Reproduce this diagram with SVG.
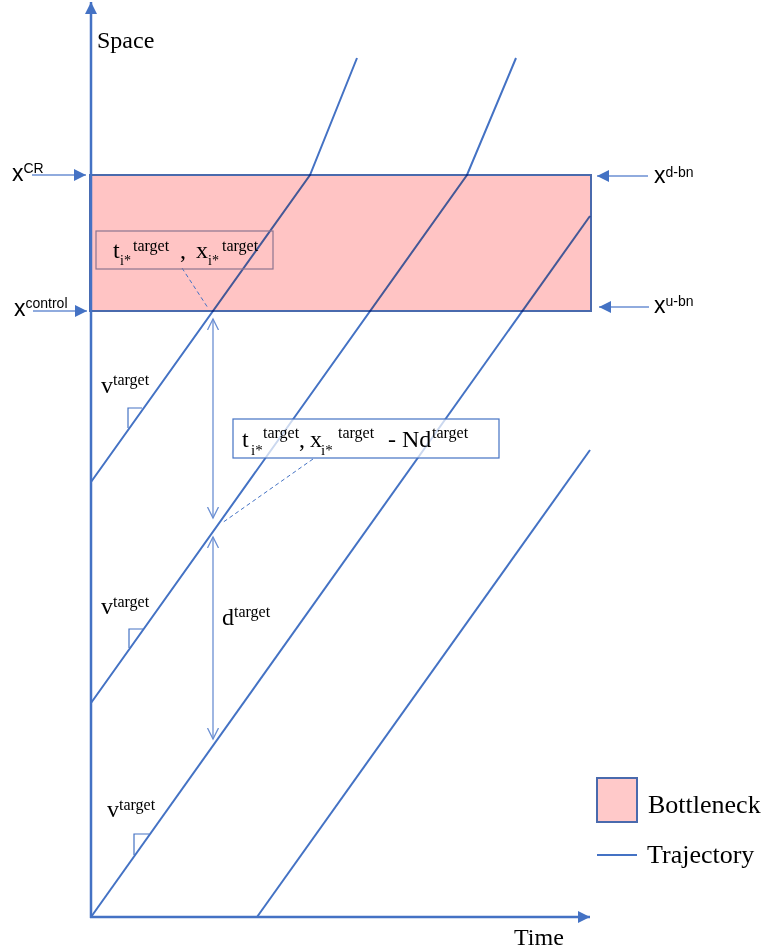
<svg xmlns="http://www.w3.org/2000/svg" width="764" height="950" viewBox="0 0 764 950">
<style>
.serif{font-family:"Liberation Serif","Times New Roman",serif;fill:#000}
.sans{font-family:"Liberation Sans",Arial,sans-serif;fill:#000}
.traj{stroke:#4472c4;stroke-width:2;fill:none}
.thin{stroke:#6b8fd3;stroke-width:1.3;fill:none}
.dash{stroke:#4472c4;stroke-width:1;stroke-dasharray:4 3;fill:none}
.tri{stroke:#4472c4;stroke-width:1.2;fill:none}
</style>
<defs>
<marker id="fa" markerUnits="userSpaceOnUse" markerWidth="13" markerHeight="12" refX="12" refY="6" orient="auto"><path d="M0,0 L12,6 L0,12 Z" fill="#4472c4"/></marker>
<marker id="oa" markerUnits="userSpaceOnUse" markerWidth="14" markerHeight="14" refX="11" refY="6" orient="auto-start-reverse"><path d="M0,0.5 L11,6 L0,11.5" fill="none" stroke="#6b8fd3" stroke-width="1.3"/></marker>
</defs>
<rect width="764" height="950" fill="#fff"/>

<g id="trajectories">
<polyline class="traj" points="91,482 310,175 357,58"/>
<polyline class="traj" points="91,703 467,175 516,58"/>
<line class="traj" x1="91" y1="917" x2="590" y2="216"/>
<line class="traj" x1="257" y1="917" x2="590" y2="450"/>
</g>

<g id="bottleneck">
<rect x="90" y="175" width="501" height="136" fill="#ffc4c4" stroke="#4a6aad" stroke-width="2" style="mix-blend-mode:multiply"/>
</g>

<g id="axes">
<line x1="91" y1="918" x2="91" y2="2" stroke="#4472c4" stroke-width="2.5" marker-end="url(#fa)"/>
<line x1="90" y1="917" x2="590" y2="917" stroke="#4472c4" stroke-width="2.5" marker-end="url(#fa)"/>
<text class="serif" x="97" y="48" font-size="24">Space</text>
<text class="serif" x="514" y="945" font-size="24">Time</text>
</g>

<g id="connectors">
<line class="thin" x1="32" y1="175" x2="86" y2="175" marker-end="url(#fa)"/>
<line class="thin" x1="33" y1="311" x2="87" y2="311" marker-end="url(#fa)"/>
<line class="thin" x1="648" y1="176" x2="597" y2="176" marker-end="url(#fa)"/>
<line class="thin" x1="649" y1="307" x2="599" y2="307" marker-end="url(#fa)"/>
<line class="thin" x1="213" y1="319" x2="213" y2="518" marker-start="url(#oa)" marker-end="url(#oa)"/>
<line class="thin" x1="213" y1="537" x2="213" y2="739" marker-start="url(#oa)" marker-end="url(#oa)"/>
<line class="dash" x1="182" y1="268" x2="208" y2="308"/>
<line class="dash" x1="313" y1="459" x2="222" y2="523"/>
<polyline class="tri" points="128,428 128,408 142,408"/>
<polyline class="tri" points="129,648 129,629 143,629"/>
<polyline class="tri" points="134,855 134,834 149,834"/>
</g>

<g id="label-xcr"><text class="sans" x="12" y="181" font-size="23">x<tspan font-size="14" dy="-8">CR</tspan></text></g>
<g id="label-xcontrol"><text class="sans" x="14" y="316" font-size="23">x<tspan font-size="14" dy="-8">control</tspan></text></g>
<g id="label-xdbn"><text class="sans" x="654" y="183" font-size="23">x<tspan font-size="14" dy="-6">d-bn</tspan></text></g>
<g id="label-xubn"><text class="sans" x="654" y="313" font-size="23">x<tspan font-size="14" dy="-7">u-bn</tspan></text></g>

<g id="label-target-point">
<rect x="96" y="231" width="177" height="38" fill="none" stroke="#8c7590" stroke-width="1.2"/>
<text class="serif" font-size="24"><tspan x="113" y="258">t</tspan><tspan x="120" y="265" font-size="14">i*</tspan><tspan x="133" y="251" font-size="16">target</tspan><tspan x="180" y="258">,</tspan><tspan x="196" y="258">x</tspan><tspan x="208" y="265" font-size="14">i*</tspan><tspan x="222" y="251" font-size="16">target</tspan></text>
</g>

<g id="label-shifted-point">
<rect x="233" y="419" width="266" height="39" fill="#fff" fill-opacity="0.72" stroke="#4472c4" stroke-width="1.2"/>
<text class="serif" font-size="24"><tspan x="242" y="447">t</tspan><tspan x="251" y="455" font-size="15">i*</tspan><tspan x="263" y="438" font-size="16">target</tspan><tspan x="299" y="447">,</tspan><tspan x="310" y="447">x</tspan><tspan x="321" y="455" font-size="15">i*</tspan><tspan x="338" y="438" font-size="16">target</tspan><tspan x="388" y="447">- Nd</tspan><tspan x="432" y="438" font-size="16">target</tspan></text>
</g>

<g id="label-v1"><text class="serif" x="101" y="393" font-size="24">v<tspan font-size="16" dy="-8">target</tspan></text></g>
<g id="label-v2"><text class="serif" x="101" y="614" font-size="24">v<tspan font-size="16" dy="-7">target</tspan></text></g>
<g id="label-v3"><text class="serif" x="107" y="817" font-size="24">v<tspan font-size="16" dy="-7">target</tspan></text></g>
<g id="label-d"><text class="serif" x="222" y="625" font-size="24">d<tspan font-size="16" dy="-8">target</tspan></text></g>

<g id="legend">
<rect x="597" y="778" width="40" height="44" fill="#ffc9c9" stroke="#4a6aad" stroke-width="2"/>
<text class="serif" x="648" y="813" font-size="26">Bottleneck</text>
<line x1="597" y1="855" x2="637" y2="855" stroke="#4472c4" stroke-width="2"/>
<text class="serif" x="647" y="863" font-size="26">Trajectory</text>
</g>
</svg>
